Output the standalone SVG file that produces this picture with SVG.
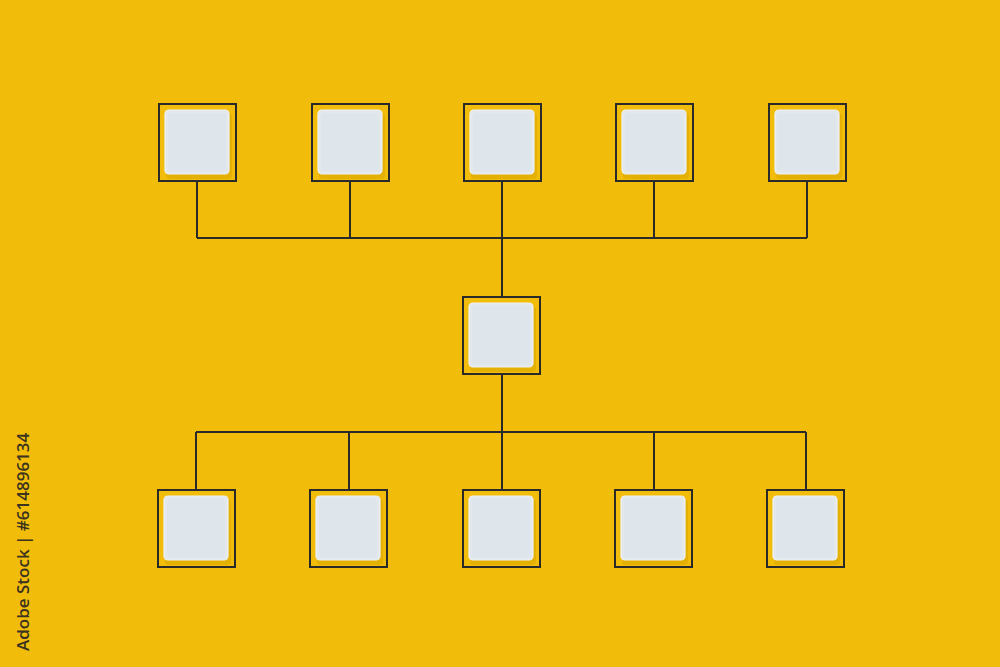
<svg xmlns="http://www.w3.org/2000/svg" width="1000" height="667" viewBox="0 0 1000 667">
<defs>
<style>
.frame{fill:none;stroke:#2a2a2a;stroke-width:2}
.shadow{fill:#d9a500;opacity:0.55}
.tile{fill:#e2e8ec;stroke:#eef2f5;stroke-width:1.2}
.inner{fill:#dfe6eb}
.wire{fill:none;stroke:#2a2a2a;stroke-width:2}
.stamp{font-family:"Open Sans","Liberation Sans",sans-serif;font-size:17px;font-weight:600;fill:#3a3320}
</style>
<g id="node-tpl">
<rect class="shadow" x="7" y="9" width="66" height="66" rx="4"/>
<rect class="tile" x="6" y="6" width="64" height="64" rx="4"/>
<rect class="inner" x="9" y="9" width="58" height="58" rx="3"/>
<rect class="frame" x="0" y="0" width="77" height="77"/>
</g>
</defs>
<rect width="1000" height="667" fill="#f2bd0a"/>
<g id="connectors">
<path class="wire" d="M197,181V238M350,181V238M502,181V297M654,181V238M807,181V238M197,238H807"/>
<path class="wire" d="M502,374V490M196,432H806M196,432V490M349,432V490M654,432V490M806,432V490"/>
</g>
<g id="n-top-1"><use href="#node-tpl" x="159" y="104"/></g>
<g id="n-top-2"><use href="#node-tpl" x="312" y="104"/></g>
<g id="n-top-3"><use href="#node-tpl" x="464" y="104"/></g>
<g id="n-top-4"><use href="#node-tpl" x="616" y="104"/></g>
<g id="n-top-5"><use href="#node-tpl" x="769" y="104"/></g>
<g id="n-mid"><use href="#node-tpl" x="463" y="297"/></g>
<g id="n-bot-1"><use href="#node-tpl" x="158" y="490"/></g>
<g id="n-bot-2"><use href="#node-tpl" x="310" y="490"/></g>
<g id="n-bot-3"><use href="#node-tpl" x="463" y="490"/></g>
<g id="n-bot-4"><use href="#node-tpl" x="615" y="490"/></g>
<g id="n-bot-5"><use href="#node-tpl" x="767" y="490"/></g>
<text class="stamp" transform="translate(29,651) rotate(-90)">Adobe Stock | #614896134</text>
</svg>
